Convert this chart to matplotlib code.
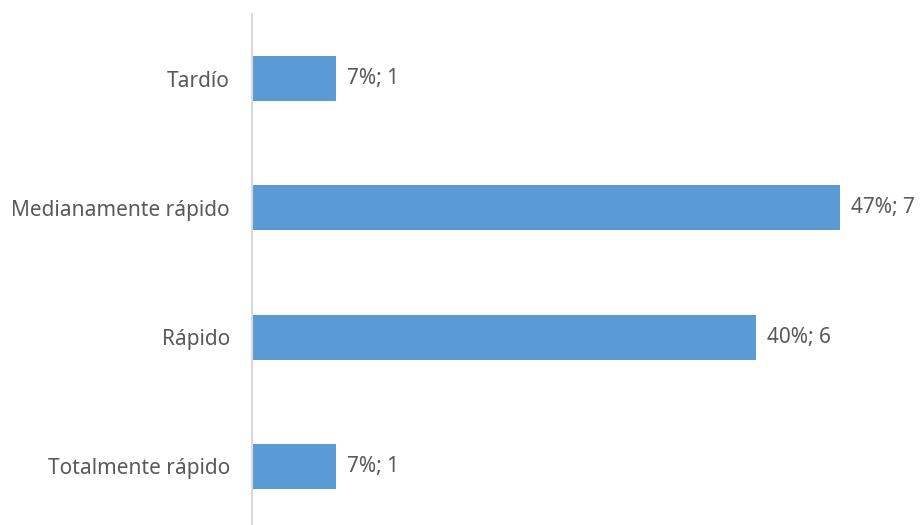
import matplotlib.pyplot as plt

categories = ["Tardío", "Medianamente rápido", "Rápido", "Totalmente rápido"]
counts = [1, 7, 6, 1]
percents = [7, 47, 40, 7]

plt.rcParams["font.family"] = ["Noto Sans", "DejaVu Sans"]

fig = plt.figure(figsize=(9.23, 5.25), dpi=100)
ax = fig.add_axes([252 / 923, -6 / 525, 672 / 923, 517 / 525])

positions = list(range(len(categories)))
ax.barh(positions, counts, height=0.35, color="#5B9BD5")

for pos, count, pct in zip(positions, counts, percents):
    ax.annotate(f"{pct}%; {count}", xy=(count, pos), xytext=(8, 0),
                textcoords="offset points", va="center", ha="left",
                fontsize=15, color="#595959")

ax.set_xlim(0, 8)
ax.set_ylim(3.5, -0.5)
ax.set_yticks(positions)
ax.set_yticklabels(categories, fontsize=15, color="#595959")
ax.tick_params(axis="y", length=0, pad=16)
ax.set_xticks([])

for side in ["top", "right", "bottom"]:
    ax.spines[side].set_visible(False)
ax.spines["left"].set_color("#D9D9D9")
ax.spines["left"].set_linewidth(1.5)

fig.savefig("out.png", dpi=100)
